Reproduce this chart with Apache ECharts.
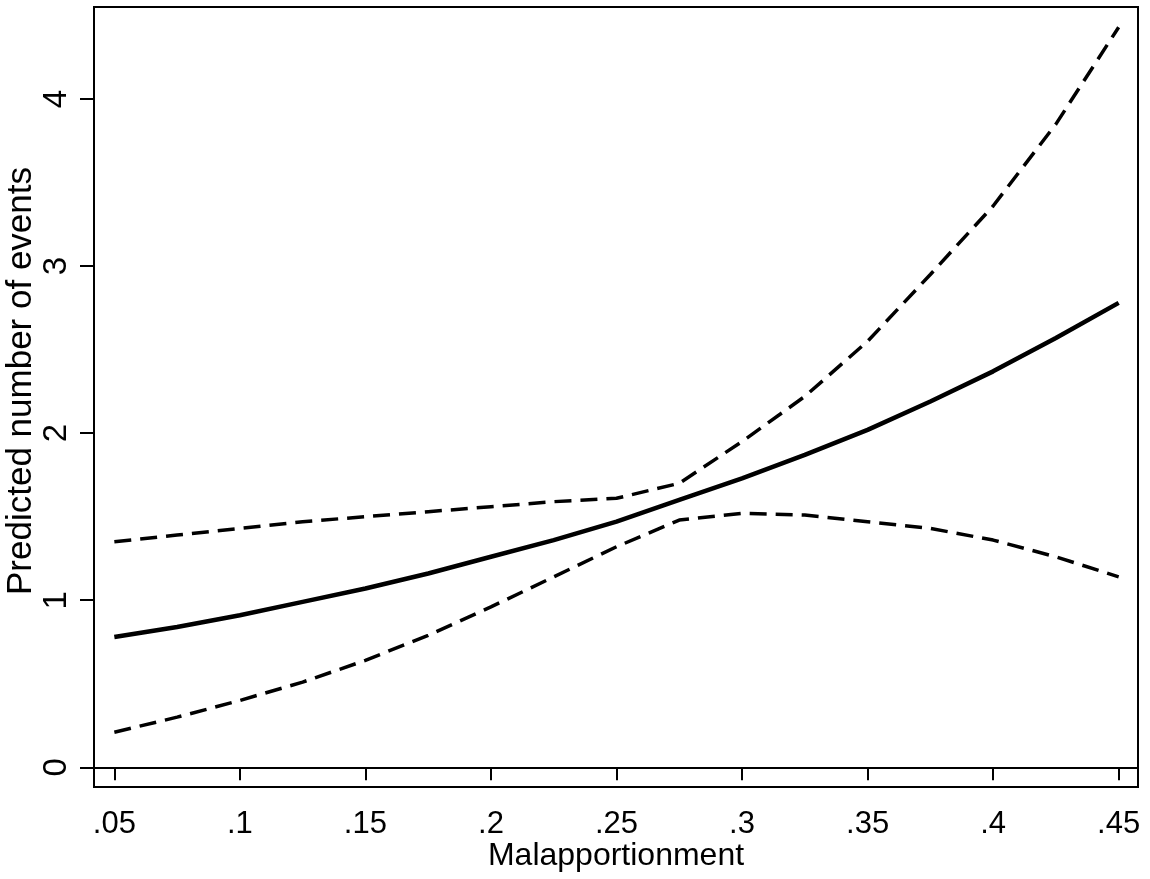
<!DOCTYPE html>
<html>
<head>
<meta charset="utf-8">
<script src="https://cdn.jsdelivr.net/npm/echarts@6/dist/echarts.min.js"></script>
<style>
html,body{margin:0;padding:0;background:#fff;}
#chart{width:1150px;height:879px;}
</style>
</head>
<body>
<div id="chart"></div>
<script>
var xValues = [0.05,0.075,0.1,0.125,0.15,0.175,0.2,0.225,0.25,0.275,0.3,0.325,0.35,0.375,0.4,0.425,0.45];
var predicted = [0.78,0.84,0.91,0.99,1.07,1.16,1.26,1.36,1.47,1.60,1.73,1.87,2.02,2.19,2.37,2.57,2.78];
var upperCI = [1.35,1.39,1.43,1.47,1.50,1.53,1.56,1.59,1.61,1.70,1.95,2.22,2.55,2.95,3.36,3.85,4.43];
var lowerCI = [0.21,0.30,0.40,0.51,0.64,0.79,0.96,1.14,1.32,1.48,1.52,1.51,1.47,1.43,1.36,1.26,1.14];
var xTicks = [0.05,0.1,0.15,0.2,0.25,0.3,0.35,0.4,0.45];
var yTicks = [0,1,2,3,4];
var xTitle = 'Malapportionment';
var yTitle = 'Predicted number of events';

function pairs(ys){ return xValues.map(function(x,i){ return [x, ys[i]]; }); }
var FONT = '"Liberation Sans", Arial, sans-serif';

var chart = echarts.init(document.getElementById('chart'), null, {renderer:'canvas'});
chart.setOption({
  backgroundColor:'#fff',
  animation:false,
  grid:{left:94, top:7, right:12, bottom:92, show:true, borderColor:'#000', borderWidth:2, backgroundColor:'#fff', outerBoundsMode:'none', containLabel:false},
  xAxis:{
    type:'value', min:0.0419, max:0.4577,
    axisLine:{show:true, lineStyle:{color:'#000', width:2}},
    axisTick:{show:true, length:13, customValues:xTicks, lineStyle:{color:'#000', width:2}},
    axisLabel:{customValues:xTicks, color:'#000', fontSize:31, fontFamily:FONT, margin:22,
      formatter:function(v){ return String(+v.toFixed(2)).replace(/^0\./,'.'); }},
    splitLine:{show:false}
  },
  yAxis:{
    type:'value', min:-0.118, max:4.551,
    axisLine:{show:true, lineStyle:{color:'#000', width:2}},
    axisTick:{show:true, length:14, customValues:yTicks, lineStyle:{color:'#000', width:2}},
    axisLabel:{customValues:yTicks, color:'#000', fontSize:33, fontFamily:FONT, rotate:90, margin:21},
    splitLine:{show:false}
  },
  graphic:[{
    type:'text', x:21, y:381, rotation:Math.PI/2,
    style:{text:yTitle, fill:'#000', font:'35px ' + FONT, textAlign:'center', textVerticalAlign:'middle'}
  },{
    type:'text', x:616, y:856,
    style:{text:xTitle, fill:'#000', font:'32px ' + FONT, textAlign:'center', textVerticalAlign:'middle'}
  }],
  series:[
    {type:'line', data:pairs(predicted), showSymbol:false, symbol:'none', lineStyle:{color:'#000', width:4.5}, z:3},
    {type:'line', data:pairs(upperCI), showSymbol:false, symbol:'none', lineStyle:{color:'#000', width:3.5, type:[17,9]}},
    {type:'line', data:pairs(lowerCI), showSymbol:false, symbol:'none', lineStyle:{color:'#000', width:3.5, type:[17,9]}}
  ]
});
</script>
</body>
</html>
